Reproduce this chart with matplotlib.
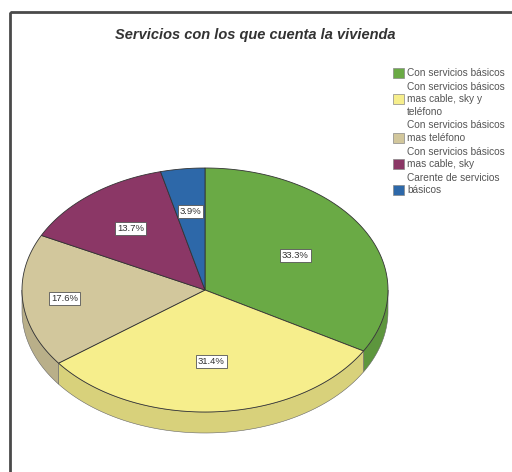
import numpy as np
import matplotlib
matplotlib.use('Agg')
import matplotlib.pyplot as plt
from matplotlib.patches import Polygon, Rectangle
import matplotlib.colors as mcolors

categories = ["Con servicios básicos",
              "Con servicios básicos\nmas cable, sky y\nteléfono",
              "Con servicios básicos\nmas teléfono",
              "Con servicios básicos\nmas cable, sky",
              "Carente de servicios\nbásicos"]
values = [33.3, 31.4, 17.6, 13.7, 3.9]
labels = ["33.3%", "31.4%", "17.6%", "13.7%", "3.9%"]
colors = ["#6aaa45", "#f6ee8c", "#d2c79c", "#8b3766", "#2d68a9"]
title = "Servicios con los que cuenta la vivienda"
label_r = [0.57, 0.59, 0.77, 0.65, 0.65]

sans = ['Liberation Sans', 'DejaVu Sans']

fig = plt.figure(figsize=(5.12, 4.72), dpi=100)
ax = fig.add_axes([0, 0, 1, 1])
ax.set_xlim(0, 512)
ax.set_ylim(472, 0)
ax.axis('off')

# frame
ax.add_patch(Rectangle((10, 12), 520, 480, fill=False, edgecolor='#4a4a4a', lw=2))

cx, cy, a, b, depth = 205, 290, 183, 122, 21
total = sum(values)
bounds = 90 - 360 * np.cumsum([0] + values) / total


def pts(t, dy=0):
    r = np.radians(t)
    return np.column_stack([cx + a * np.cos(r), cy - b * np.sin(r) + dy])


def darker(c, f=0.88):
    rgb = np.array(mcolors.to_rgb(c))
    return tuple(rgb * f)

# sides
for i, col in enumerate(colors):
    t0, t1 = bounds[i], bounds[i + 1]
    hi, lo = min(t0, 0), max(t1, -180)
    if hi > lo:
        ts = np.linspace(hi, lo, 60)
        top = pts(ts)
        bot = pts(ts[::-1], depth)
        ax.add_patch(Polygon(np.vstack([top, bot]), closed=True,
                             facecolor=darker(col), edgecolor='#666666', lw=0.4))

# top faces
for i, col in enumerate(colors):
    t0, t1 = bounds[i], bounds[i + 1]
    ts = np.linspace(t0, t1, 120)
    poly = np.vstack([[cx, cy], pts(ts)])
    ax.add_patch(Polygon(poly, closed=True, facecolor=col,
                         edgecolor='#333333', lw=0.6))

# labels
for i, lab in enumerate(labels):
    tm = (bounds[i] + bounds[i + 1]) / 2
    r = np.radians(tm)
    x = cx + label_r[i] * a * np.cos(r)
    y = cy - label_r[i] * b * np.sin(r)
    ax.text(x, y, lab, ha='center', va='center', fontsize=6.8, family=sans,
            color='#333333',
            bbox=dict(boxstyle='square,pad=0.2', facecolor='white',
                      edgecolor='#555555', lw=0.6))

# title
ax.text(255, 35, title, ha='center', va='center', fontsize=10.5,
        fontweight='bold', fontstyle='italic', family=sans,
        color='#333333')

# legend
y = 73
lh = 12.6
for i, (cat, col) in enumerate(zip(categories, colors)):
    lines = cat.split('\n')
    n = len(lines)
    py = y + (1 if n > 1 else 0) * lh
    ax.add_patch(Rectangle((393, py - 5), 11, 10, facecolor=col,
                           edgecolor='#888888', lw=0.5))
    for j, ln in enumerate(lines):
        ax.text(407, y + j * lh, ln, ha='left', va='center', fontsize=7.3,
                family=sans, color='#555555')
    y += n * lh + 1

fig.savefig('out.png', dpi=100)
